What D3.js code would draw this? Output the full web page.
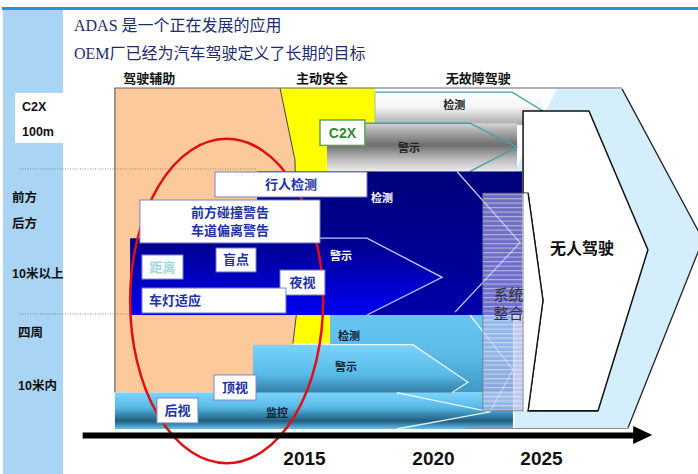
<!DOCTYPE html>
<html>
<head>
<meta charset="utf-8">
<script src="https://cdn.jsdelivr.net/npm/d3@7"></script>
<style>
	body { margin: 0; background: #fff; }
	svg { display: block; font-family: "Liberation Sans", "Noto Sans CJK SC", sans-serif; }
</style>
</head>
<body>
<div id="chart"></div>
<script>
// ---- text of the slide
var titleLines = ['ADAS 是一个正在发展的应用', 'OEM厂已经为汽车驾驶定义了长期的目标'];
var phases = ['驾驶辅助', '主动安全', '无故障驾驶'];
var phaseCentre = [2009.0, 2015.7, 2022.1];      // year under each heading
var laneLabels = [['C2X', '100m'], ['前方', '后方', '10米以上'], ['四周', '10米内']];
var years = [2015, 2020, 2025];

// ---- road map (years on x, lanes 0..3 on y)
var assistStart = 2007.67;
var safetyEdge = [[2014.07, 0], [2014.65, 0.88], [2014.77, 1.9], [2014.57, 2.25]];
var faultFreeStart = 2017.75;

// functions in each lane: start year, end of body, tip of arrow
var bandNames = ['检测', '警示', '检测', '警示', '检测', '警示', '监控'];
var bandLane  = [0, 0, 1, 1, 2, 2, 2];
var bandStart = [2017.75, 2015.89, 2013.18, 2008.26, 2016.01, 2013.02, 2007.67];
var bandBody  = [2023.66, 2021.71, 2021.11, 2017.44, 2021.62, 2019.22, 2018.60];
var bandTip   = [2025.09, 2023.89, 2024.03, 2020.42, 2023.70, 2021.62, 2022.64];

// single features (boxes), from / to in years
var features    = ['C2X', '行人检测', '前方碰撞警告\n车道偏离警告', '距离', '盲点', '夜视', '车灯适应', '顶视', '后视'];
var featureFrom = [2015.62, 2011.55, 2008.64, 2008.72, 2011.59, 2014.07, 2008.72, 2011.51, 2009.30];
var featureTo   = [2017.36, 2017.44, 2015.62, 2010.31, 2013.14, 2015.81, 2014.30, 2013.14, 2010.89];

var systemStart = 2022.31, autonomousStart = 2024.17;
var goalText = '无人驾驶', systemText = ['系统', '整合'];

// ---- layout (lane units, not data)
var bandTop = [0.05, 0.43, 1.01, 1.47, 2.0, 2.26, 2.68];
var bandBot = [0.45, 1.01, 2.0, 2.0, 2.68, 2.91, 3.0];
var bandMid = [0.28, 0.72, 1.50, 1.74, 2.48, 2.59, 2.85];
var bandText = [[2020.98, 0.21], [2019.07, 0.73], [2018.02, 1.19], [2016.43, 1.59], [2016.74, 2.18], [2016.63, 2.46], [2013.95, 2.86]];
var featTop = [0.39, 1.014, 1.207, 1.586, 1.538, 1.690, 1.814, 2.526, 2.728];
var featBot = [0.70, 1.186, 1.503, 1.752, 1.703, 1.862, 1.986, 2.746, 2.947];
var laneLabelY = [[0.23, 0.54], [1.19, 1.37, 1.72], [2.16, 2.62]];
var laneLabelX = [22, 12, 18];

var width = 698, height = 474;
var svg = d3.select('#chart').append('svg').attr('width', width).attr('height', height);
var defs = svg.append('defs');

var x = d3.scaleLinear().domain(years).range([304, 433, 541]);
var y = d3.scaleLinear().domain([0, 1, 2, 3]).range([88, 170, 315, 429]);

var shapeLine = d3.line().x(function(d) { return x(d[0]); }).y(function(d) { return y(d[1]); }).curve(d3.curveLinearClosed);
var pathLine = d3.line().x(function(d) { return x(d[0]); }).y(function(d) { return y(d[1]); });

function vGrad(id, stops) {
	var g = defs.append('linearGradient').attr('id', id)
		.attr('x1', 0).attr('y1', 0).attr('x2', 0).attr('y2', 1);
	stops.forEach(function(s) {
		g.append('stop').attr('offset', s[0]).attr('stop-color', s[1]);
	});
}
vGrad('gWhite', [[0, '#ffffff'], [0.45, '#f6f6f6'], [1, '#a8a8a8']]);
vGrad('gGray', [[0, '#d4d4d4'], [0.2, '#a4a4a4'], [0.45, '#6e6e6e'], [0.75, '#bdbdbd'], [1, '#ececec']]);
vGrad('gNavy', [[0, '#00007a'], [1, '#0000a8']]);
vGrad('gBlue', [[0, '#00008a'], [1, '#0000f2']]);
vGrad('gCyan', [[0, '#7cd4fb'], [0.4, '#58bae8'], [0.78, '#1d5e7e'], [1, '#6cbfe4']]);
vGrad('gCyanTop', [[0, '#66c6f1'], [0.5, '#5cbbe8'], [1, '#3f98c6']]);

var pat = defs.append('pattern').attr('id', 'hatch')
	.attr('patternUnits', 'userSpaceOnUse').attr('width', 6).attr('height', 4.5);
pat.append('rect').attr('width', 6).attr('height', 4.5).attr('fill', 'rgba(178,178,230,0.62)');
pat.append('rect').attr('width', 6).attr('height', 1.2).attr('fill', 'rgba(255,255,255,0.45)');

// ---- frame of the slide
svg.append('rect').attr('x', 2).attr('y', 7).attr('width', 696).attr('height', 3).attr('fill', '#1b9ad6');
svg.append('rect').attr('x', 3).attr('y', 10).attr('width', 60).attr('height', height - 10).attr('fill', '#a9d4f4');
svg.append('rect').attr('x', 15).attr('y', y(0.06)).attr('width', 48).attr('height', y(0.67) - y(0.06)).attr('fill', '#fff');

titleLines.forEach(function(t, i) {
	svg.append('text').attr('x', 74).attr('y', 31 + i * 28)
		.style('font-family', '"Liberation Serif", "Noto Sans CJK SC", serif')
		.attr('font-size', 16).attr('fill', '#1d2c6e').text(t);
});

phases.forEach(function(p, i) {
	svg.append('text').attr('x', x(phaseCentre[i])).attr('y', 78)
		.attr('text-anchor', 'middle').attr('dominant-baseline', 'central')
		.attr('font-size', 13).attr('font-weight', 'bold').attr('fill', '#111').text(p);
});

laneLabels.forEach(function(rows, i) {
	rows.forEach(function(t, j) {
		svg.append('text').attr('x', laneLabelX[i]).attr('y', y(laneLabelY[i][j]))
			.attr('dominant-baseline', 'central')
			.attr('font-size', 12.5).attr('font-weight', 'bold').attr('fill', '#111').text(t);
	});
});

// ---- goal chevron background
svg.append('path')
	.attr('d', shapeLine([[2025.74, 0.01], [2028.75, 0.01], [2032.5, 1.48], [2029.03, 2.99], [2023.8, 2.99], [2023.8, 1.0]]))
	.attr('fill', '#d4effb');
svg.append('path')
	.attr('d', pathLine([[2028.75, 0.01], [2032.5, 1.48], [2029.03, 2.99]]))
	.attr('fill', 'none').attr('stroke', '#222').attr('stroke-width', 1.3);

// ---- phases: assist (peach) and active safety (yellow)
var edge = safetyEdge.slice();
svg.append('path')
	.attr('d', shapeLine([[assistStart, 0]].concat(edge, [[2014.5, 2.68], [assistStart, 2.68]])))
	.attr('fill', '#fcc99a');
svg.append('path')
	.attr('d', shapeLine([[faultFreeStart, 0], [faultFreeStart, 2.25]].concat(edge.slice().reverse())))
	.attr('fill', '#ffff00');
svg.append('path').attr('d', pathLine(edge)).attr('fill', 'none').attr('stroke', '#444').attr('stroke-width', 1);
svg.append('path').attr('d', pathLine([[assistStart, 2.68], [assistStart, 0], [2028.75, 0]]))
	.attr('fill', 'none').attr('stroke', '#666').attr('stroke-width', 1.2);

[1, 2].forEach(function(l) {
	svg.append('line').attr('x1', 20).attr('x2', x(2013.18)).attr('y1', y(l) - 1).attr('y2', y(l) - 1)
		.attr('stroke', '#777').attr('stroke-width', 0.8).attr('stroke-dasharray', '1,1.5');
});

// ---- bands
function bandRect(i, fill, to) {
	svg.append('rect').attr('x', x(bandStart[i])).attr('y', y(bandTop[i]))
		.attr('width', x(to) - x(bandStart[i])).attr('height', y(bandBot[i]) - y(bandTop[i]))
		.attr('fill', fill);
}
function bandArrow(i, fill) {
	svg.append('path').attr('d', shapeLine([[bandStart[i], bandTop[i]], [bandBody[i], bandTop[i]],
		[bandTip[i], bandMid[i]], [bandBody[i], bandBot[i]], [bandStart[i], bandBot[i]]]))
		.attr('fill', fill);
}
function outline(pts, color) {
	svg.append('path').attr('d', pathLine(pts)).attr('fill', 'none').attr('stroke', color).attr('stroke-width', 1.3);
}

// lane 0
bandRect(0, 'url(#gWhite)', bandTip[0]);
outline([[bandStart[0], bandTop[0]], [bandBody[0], bandTop[0]], [bandTip[0], bandMid[0]]], '#3fa3a3');
svg.append('line').attr('x1', x(bandStart[0])).attr('x2', x(bandStart[0])).attr('y1', y(bandTop[0])).attr('y2', y(bandBot[0]))
	.attr('stroke', '#9fd29f').attr('stroke-width', 1.2);
bandRect(1, 'url(#gGray)', bandTip[1]);
outline([[2017.36, bandTop[1]], [bandBody[1], bandTop[1]], [bandTip[1], bandMid[1]], [bandBody[1], bandBot[1]]], '#3fa3a3');

// lane 1
svg.append('rect').attr('x', x(bandStart[2])).attr('y', y(bandTop[2]))
	.attr('width', x(2024.12) - x(bandStart[2])).attr('height', y(bandBot[2]) - y(bandTop[2]))
	.attr('fill', 'url(#gNavy)');
bandArrow(3, 'url(#gBlue)');
outline([[bandBody[2], bandTop[2]], [bandTip[2], bandMid[2]], [2021.02, 1.98]], '#c8c8ff');
outline([[2015.62, bandTop[3]], [bandBody[3], bandTop[3]], [bandTip[3], bandMid[3]], [bandBody[3], bandBot[3]]], '#c8c8ff');

// lane 2
bandRect(4, 'url(#gCyanTop)', bandTip[4]);
bandArrow(5, 'url(#gCyan)');
bandRect(6, 'url(#gCyan)', bandTip[4]);
outline([[2021.71, bandTop[4]], [bandTip[4], bandMid[4]], [bandTip[6], bandMid[6]]], 'rgba(255,255,255,0.85)');
outline([[2016.01, bandTop[5]], [bandBody[5], bandTop[5]], [bandTip[5], bandMid[5]], [2020.88, 2.68]], 'rgba(255,255,255,0.85)');
outline([[bandBody[6], bandTop[6]], [bandTip[6], bandMid[6]], [bandBody[6], bandBot[6]]], 'rgba(255,255,255,0.85)');
svg.append('line').attr('x1', x(2021.5)).attr('x2', x(2029.03)).attr('y1', y(2.995)).attr('y2', y(2.995))
	.attr('stroke', '#888').attr('stroke-width', 1);

bandNames.forEach(function(n, i) {
	svg.append('text').attr('x', x(bandText[i][0])).attr('y', y(bandText[i][1]))
		.attr('text-anchor', 'middle').attr('dominant-baseline', 'central')
		.attr('font-size', 11).attr('font-weight', 'bold')
		.attr('fill', bandLane[i] === 1 ? '#fff' : (bandLane[i] === 0 ? '#222' : '#0f2233'))
		.text(n);
});

// ---- highlight of today's features
var ex = x(2012.0), rx = x(2015.74) - x(2012.0);
svg.append('ellipse').attr('cx', ex).attr('cy', (y(0.62) + y(3.30)) / 2)
	.attr('rx', rx).attr('ry', (y(3.30) - y(0.62)) / 2)
	.attr('fill', 'none').attr('stroke', '#e01010').attr('stroke-width', 2.5);

features.forEach(function(f, i) {
	var x0 = x(featureFrom[i]), x1 = x(featureTo[i]), y0 = y(featTop[i]), y1 = y(featBot[i]);
	var c2x = i === 0;
	svg.append('rect').attr('x', x0).attr('y', y0).attr('width', x1 - x0).attr('height', y1 - y0)
		.attr('fill', '#fff').attr('stroke', c2x ? '#5aa65a' : '#7b82c8').attr('stroke-width', c2x ? 1.5 : 1);
	var lines = f.split('\n');
	var left = f === '车灯适应';
	lines.forEach(function(t, j) {
		svg.append('text')
			.attr('x', left ? x0 + 7 : (x0 + x1) / 2)
			.attr('y', (y0 + y1) / 2 + (j - (lines.length - 1) / 2) * 18)
			.attr('text-anchor', left ? 'start' : 'middle').attr('dominant-baseline', 'central')
			.attr('font-size', c2x ? 14 : 13).attr('font-weight', 'bold')
			.attr('fill', c2x ? '#2e8b2e' : (f === '距离' ? '#a6d6e6' : '#2231a6'))
			.text(t);
	});
});

// ---- system integration and the goal
svg.append('path')
	.attr('d', shapeLine([[autonomousStart, 0.28], [2027.22, 0.28], [2029.95, 1.55], [2027.64, 2.84],
		[2024.40, 2.84], [2025.09, 1.90], [2024.40, 1.16], [autonomousStart, 1.16]]))
	.attr('fill', '#fff').attr('stroke', '#111').attr('stroke-width', 1.5);
svg.append('path')
	.attr('d', shapeLine([[autonomousStart, 1.16], [2024.40, 1.16], [2025.09, 1.90], [2024.40, 2.84], [autonomousStart, 2.84]]))
	.attr('fill', '#fff');
svg.append('path').attr('d', pathLine([[2024.40, 1.16], [2025.09, 1.90], [2024.40, 2.84], [2027.64, 2.84]]))
	.attr('fill', 'none').attr('stroke', '#111').attr('stroke-width', 1.3);
svg.append('rect').attr('x', x(systemStart)).attr('y', y(1.16))
	.attr('width', x(autonomousStart) - x(systemStart)).attr('height', y(2.84) - y(1.16))
	.attr('fill', 'url(#hatch)').attr('stroke', '#777').attr('stroke-width', 0.8);

svg.append('text').attr('x', x(2026.9)).attr('y', y(1.54))
	.attr('text-anchor', 'middle').attr('dominant-baseline', 'central')
	.attr('font-size', 16).attr('font-weight', 'bold').attr('fill', '#111').text(goalText);
systemText.forEach(function(t, j) {
	svg.append('text').attr('x', x(2023.49)).attr('y', y(1.86) + j * 19)
		.attr('text-anchor', 'middle').attr('dominant-baseline', 'central')
		.attr('font-size', 15).attr('fill', '#333').text(t);
});

// ---- time axis
var axisDomain = [2006.4, 2015, 2020, 2025, 2029.5];
var axisScale = d3.scaleLinear().domain(axisDomain).range(axisDomain.map(x));
var axisY = y(3) + 6;
var axis = svg.append('g').attr('transform', 'translate(0,' + axisY + ')')
	.call(d3.axisBottom(axisScale).tickValues(years).tickSize(0).tickPadding(17).tickFormat(d3.format('d')));
axis.select('.domain').attr('stroke', '#000').attr('stroke-width', 6);
axis.selectAll('text').attr('font-size', 19).attr('font-weight', 'bold').attr('fill', '#111')
	.style('font-family', '"Liberation Sans", Arial, sans-serif');
var ax = axisScale(2029.5);
svg.append('path').attr('d', 'M' + (ax - 5) + ',' + (axisY - 9) + 'L' + (ax + 14) + ',' + axisY + 'L' + (ax - 5) + ',' + (axisY + 9) + 'Z')
	.attr('fill', '#000');
</script>
</body>
</html>
